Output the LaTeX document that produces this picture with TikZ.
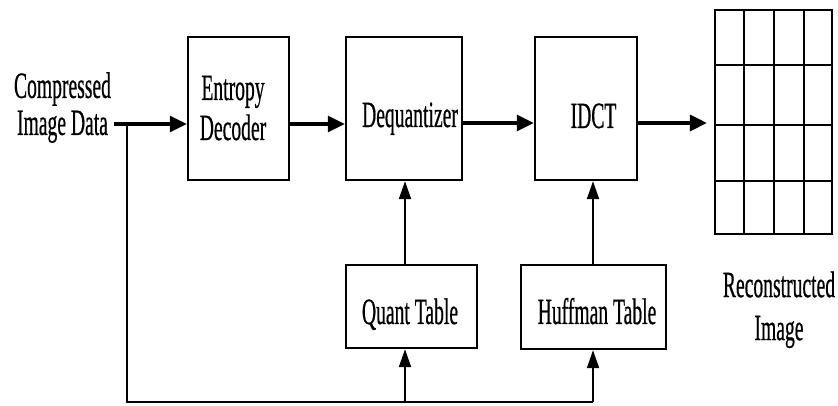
\documentclass[tikz,border=0pt]{standalone}
\usepackage{fontspec}
\setmainfont[FakeBold=0.8]{Liberation Serif}
\usepackage{graphicx}
\usetikzlibrary{arrows.meta}

% narrow, tall serif lettering
\newcommand\lblone[1]{\scalebox{0.53}[1]{\fontsize{37}{40}\selectfont #1}}
\newcommand\lbltwo[2]{\scalebox{0.53}[1]{\fontsize{37}{#1}\selectfont\begin{tabular}{@{}c@{}}#2\end{tabular}}}

\begin{document}
\begin{tikzpicture}[x=1pt,y=1pt,
  block/.style={draw, line width=2.4pt, inner sep=0pt},
  txt/.style={inner sep=0pt},
  flow/.style={line width=3.2pt, -{Triangle[length=17pt,width=16pt]}},
  feed/.style={line width=2pt, -{Triangle[length=18pt,width=12pt]}},
  bus/.style={line width=2.6pt},
  gridline/.style={line width=2pt}]

\useasboundingbox (0,0) rectangle (838,406);

% processing blocks
\node[block, minimum width=101pt, minimum height=143pt] (ent)  at (238.5,297.5) {};
\node[block, minimum width=116pt, minimum height=143pt] (deq)  at (404,297.5) {};
\node[block, minimum width=102pt, minimum height=143pt] (idct) at (586,297.5) {};
\node[block, minimum width=131pt, minimum height=83pt]  (quant) at (411.5,99.5) {};
\node[block, minimum width=145pt, minimum height=84pt]  (huff)  at (593.5,99) {};

% block captions
\node[txt] (ent-t) at (233,294) {\lbltwo{40pt}{Entropy\\Decoder}};
\node[txt, anchor=base] (deq-t) at (410,279) {\lblone{Dequantizer}};
\node[txt, anchor=base] (idct-t) at (593.5,278) {\lblone{IDCT}};
\node[txt, anchor=base] (quant-t) at (410,82) {\lblone{Quant Table}};
\node[txt, anchor=base] (huff-t) at (597,82) {\lblone{Huffman Table}};

% input and output captions
\node[txt] (cmp) at (62.5,297) {\lbltwo{37pt}{Compressed\\Image Data}};
\node[txt] (rec) at (779,96) {\lbltwo{43pt}{Reconstructed\\Image}};

% reconstructed image grid
\node[draw, line width=2.2pt, minimum width=117pt, minimum height=224pt, inner sep=0pt] (img) at (773.5,284) {};
\foreach \gx in {744,774,804}
  \draw[gridline] (\gx,172) -- (\gx,396);
\foreach \gy in {341,281,225}
  \draw[gridline] (715,\gy) -- (832,\gy);

% routing points
\coordinate (in)    at (114,282);
\coordinate (split) at (127,282);
\coordinate (corner) at (127,4);
\coordinate (tapq)  at (405,4);
\coordinate (taph)  at (593,4);

% main data path
\draw[flow] (in) -- (ent.west |- in);
\draw[flow] (ent.east |- in) -- (deq.west |- in);
\draw[flow] (deq.east |- 0,283) -- (idct.west |- 0,283);
\draw[flow, shorten >=7pt] (idct.east |- 0,283) -- (img.west |- 0,283);

% tables feeding the decoder stages
\draw[feed] (quant.north -| tapq) -- (deq.south -| tapq);
\draw[feed] (huff.north -| taph) -- (idct.south -| taph);

% bypass of the compressed stream to the tables
\draw[bus] (split) -- (corner) -- (taph);
\draw[feed] (tapq) -- (quant.south -| tapq);
\draw[feed] (taph) -- (huff.south -| taph);

\end{tikzpicture}
\end{document}
